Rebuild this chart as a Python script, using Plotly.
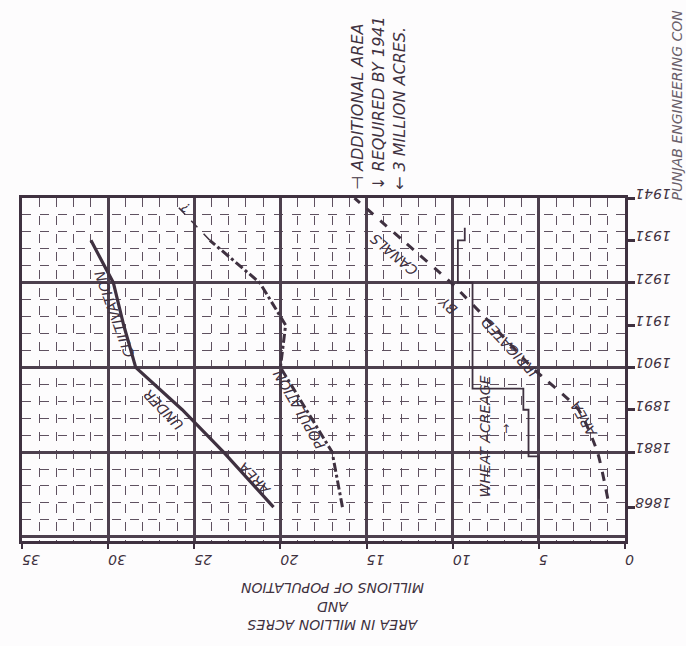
import plotly.graph_objects as go

# ---------------- data ----------------
census_years = [1868, 1881, 1891, 1901, 1911, 1921, 1931, 1941]
tick_labels_years = ["1868", "1881", "1891", "1901", "1911", "1921", "1931", "1941"]
value_ticks = [0, 5, 10, 15, 20, 25, 30, 35]

cult_years = [1868, 1881, 1891, 1901, 1911, 1921, 1931]
cult_values = [20.4, 23.3, 25.7, 28.4, 29.1, 29.7, 31.0]

pop_years = [1868, 1881, 1891, 1901, 1911, 1921, 1931]
pop_values = [16.4, 17.0, 18.5, 20.0, 19.7, 21.2, 24.1]

pop_proj_years = [1931, 1940]
pop_proj_values = [24.1, 26.2]

irr_years = [1870, 1881, 1891, 1901, 1911, 1921, 1931, 1941]
irr_values = [1.0, 1.6, 2.7, 5.4, 7.7, 10.1, 12.9, 15.7]

# wheat acreage: value held from each start year to the next
wheat_years = [1870, 1880, 1891, 1896, 1921, 1931, 1934]
wheat_values = [5.0, 5.6, 5.9, 8.85, 9.7, 9.3, 9.3]

INK = "#3f3140"
GRID = "#4d404e"
MINOR = "#5f5160"
FONT = "DejaVu Sans"

fig = go.Figure()

fig.add_trace(go.Scatter(x=cult_values, y=cult_years, mode="lines",
                         line=dict(color=INK, width=3.2), hoverinfo="skip"))
fig.add_trace(go.Scatter(x=pop_values, y=pop_years, mode="lines",
                         line=dict(color=INK, width=3, dash="dashdot"), hoverinfo="skip"))
fig.add_trace(go.Scatter(x=pop_proj_values, y=pop_proj_years, mode="lines",
                         line=dict(color=INK, width=1.5, dash="dash"), hoverinfo="skip"))
fig.add_trace(go.Scatter(x=irr_values, y=irr_years, mode="lines",
                         line=dict(color=INK, width=3, dash="dash", shape="spline", smoothing=0.6),
                         hoverinfo="skip"))
fig.add_trace(go.Scatter(x=wheat_values, y=wheat_years, mode="lines",
                         line=dict(color=INK, width=1.8, shape="vh"), hoverinfo="skip"))


def note(text, x, y, angle, size=14):
    fig.add_annotation(text=text, x=x, y=y, xref="x", yref="y", showarrow=False,
                       textangle=angle,
                       font=dict(family=FONT, size=size, color=INK, style="italic"),
                       xanchor="center", yanchor="middle")

note("AREA", 21.5, 1874.8, -134)
note("UNDER", 26.8, 1891.1, -134)
note("CULTIVATION", 29.6, 1913.5, -110)
note("POPULATION", 18.9, 1891.1, -120)
note("WHEAT ACREAGE", 8.1, 1884.8, -90)
note("↑", 6.9, 1886.5, 0, 12)
note("AREA", 2.4, 1888.8, -120)
note("IRRIGATED", 6.7, 1905.8, -133)
note("BY", 10.3, 1915.6, -138)
note("CANALS", 13.4, 1927.7, -140)
note("?", 25.5, 1938.9, -150, 13)

fig.add_annotation(text="⊣ ADDITIONAL AREA<br>↓ REQUIRED BY 1941<br>← 3 MILLION ACRES.",
                   x=0.592, y=1.277, xref="paper", yref="paper", showarrow=False, textangle=-90,
                   align="left", font=dict(family=FONT, size=16, color=INK, style="italic"),
                   xanchor="center", yanchor="middle")

fig.add_annotation(text="PUNJAB ENGINEERING CON", x=1.087, y=1.271, xref="paper", yref="paper",
                   showarrow=False, textangle=-90,
                   font=dict(family=FONT, size=14, color="#6a5f6a", style="italic"),
                   xanchor="center", yanchor="middle")

fig.add_annotation(text="AREA IN MILLION ACRES<br>AND<br>MILLIONS OF POPULATION",
                   x=0.514, y=-0.192, xref="paper", yref="paper", showarrow=False,
                   textangle=180, font=dict(family=FONT, size=14, color=INK, style="italic"),
                   xanchor="center", yanchor="middle")

fig.update_layout(
    width=686, height=646,
    margin=dict(l=22, r=61, t=198, b=105),
    paper_bgcolor="#fdfcfd", plot_bgcolor="#fdfcfd",
    showlegend=False,
    font=dict(family=FONT, color=INK),
    xaxis=dict(range=[35, 0], tickvals=value_ticks, ticktext=[str(v) for v in value_ticks],
               tickangle=180, tickfont=dict(family=FONT, size=14, color=INK, style="italic"),
               ticklabelstandoff=3,
               showgrid=True, gridcolor=GRID, gridwidth=2.5,
               minor=dict(dtick=1, tick0=0, showgrid=True, gridcolor=MINOR, griddash="dash", gridwidth=1.2),
               showline=True, linecolor=INK, linewidth=3, mirror=True, automargin=False,
               ticks="outside", ticklen=5, tickwidth=2, tickcolor=INK, zeroline=False),
    yaxis=dict(range=[1860, 1941], tick0=1861, dtick=20, showticklabels=False, automargin=False,
               showgrid=True, gridcolor=GRID, gridwidth=2.5,
               minor=dict(dtick=4, tick0=1861, showgrid=True, gridcolor=MINOR, griddash="dash", gridwidth=1.2),
               showline=True, linecolor=INK, linewidth=3, mirror=True, zeroline=False, ticks=""),
    yaxis2=dict(range=[1860, 1941], overlaying="y", side="right", tickvals=census_years,
                ticktext=tick_labels_years, tickangle=180, ticks="outside", ticklen=9, tickwidth=3,
                tickcolor=INK, tickfont=dict(family=FONT, size=14, color=INK, style="italic"),
                ticklabelstandoff=33, showgrid=False, automargin=False,
                zeroline=False, showline=False),
)
# invisible trace to activate yaxis2
fig.add_trace(go.Scatter(x=[None], y=[None], yaxis="y2", hoverinfo="skip"))

fig.write_html("out.html", config={"displayModeBar": False},
               post_script="document.body.style.margin='0px';document.body.style.overflow='hidden';")
